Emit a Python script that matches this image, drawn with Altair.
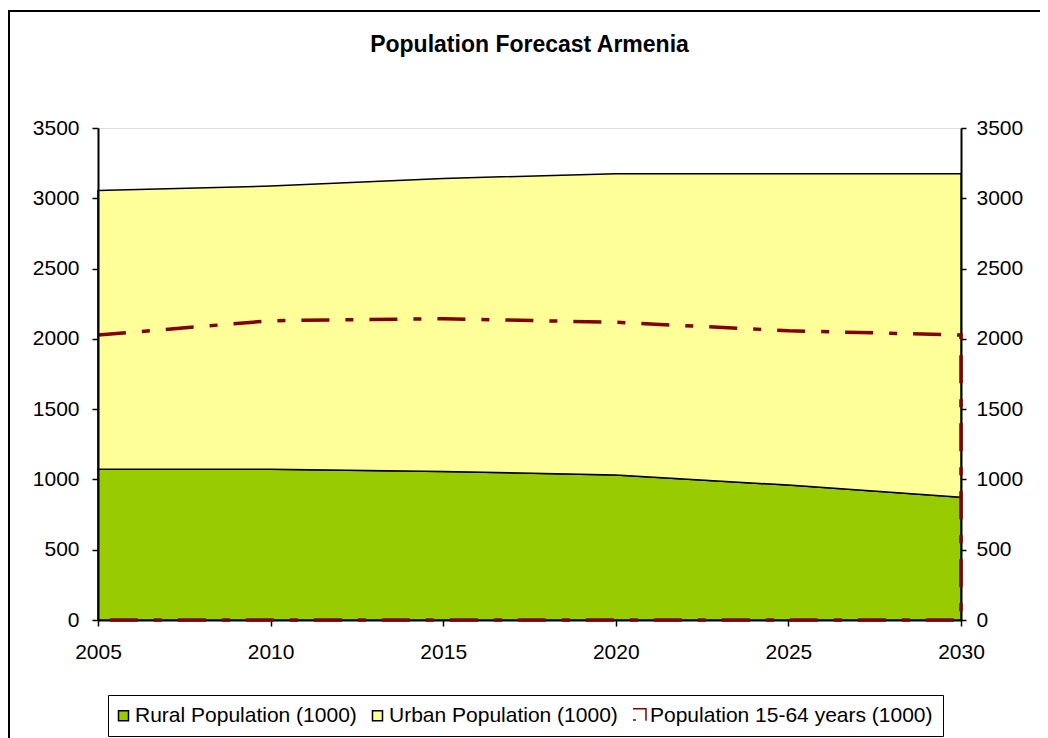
import altair as alt
import pandas as pd

years = [2005, 2010, 2015, 2020, 2025, 2030]
rural = [1072, 1072, 1057, 1031, 960, 873]
urban = [1983, 2015, 2084, 2144, 2215, 2302]
pop1564 = [2027, 2129, 2143, 2118, 2058, 2027]

series_names = ["Rural Population (1000)", "Urban Population (1000)", "Population 15-64 years (1000)"]
x_ticks = [2005, 2010, 2015, 2020, 2025, 2030]
y_ticks = [0, 500, 1000, 1500, 2000, 2500, 3000, 3500]

rows = []
for i, yr in enumerate(years):
    rows.append({"year": yr, "series": series_names[0], "value": rural[i], "ord": 0})
    rows.append({"year": yr, "series": series_names[1], "value": urban[i], "ord": 1})
stack_df = pd.DataFrame(rows)

# outline of the unfilled 15-64 area: top edge, then down the right side and back along the baseline
outline_rows = [{"year": yr, "value": v, "seq": i} for i, (yr, v) in enumerate(zip(years, pop1564))]
outline_rows.append({"year": years[-1], "value": 0, "seq": len(years)})
outline_rows.append({"year": years[0], "value": 0, "seq": len(years) + 1})
outline_df = pd.DataFrame(outline_rows)
legend_df = pd.DataFrame({"year": years[:1], "value": pop1564[:1], "series": series_names[2:]})

FONT = "Liberation Sans"
fill_scale = alt.Scale(domain=series_names, range=["#99CC00", "#FFFF99", "transparent"])
legend = alt.Legend(
    title=None, orient="none", legendX=10, legendY=567, direction="horizontal",
    labelFont=FONT, labelFontSize=21, labelColor="black", labelLimit=400,
    symbolSize=100, labelOffset=1, columnPadding=12, padding=10, symbolOffset=-5,
    strokeColor="black", fillColor="white", symbolOpacity=1, symbolStrokeWidth=1.5,
)

x_scale = alt.Scale(domain=[2005, 2030], nice=False, zero=False)
x_enc = alt.X("year:Q", scale=x_scale,
              axis=alt.Axis(values=x_ticks, format="d", title=None, grid=False, labelFlush=False,
                            labelOverlap=False, labelFont=FONT, labelFontSize=21, labelColor="black",
                            labelPadding=15, tickSize=6, tickColor="black", tickWidth=1.5,
                            domainColor="black", domainWidth=2, zindex=0))
y_scale = alt.Scale(domain=[0, 3500], nice=False)

areas = alt.Chart(stack_df).mark_area(stroke="black", strokeWidth=1.5, opacity=1).encode(
    x=x_enc,
    y=alt.Y("value:Q", stack="zero", scale=y_scale,
            axis=alt.Axis(values=y_ticks, format="d", title=None, grid=False, orient="left",
                          labelFont=FONT, labelFontSize=21, labelColor="black", labelPadding=13,
                          tickSize=6, tickColor="black", tickWidth=1.5,
                          domainColor="black", domainWidth=2, zindex=1)),
    fill=alt.Fill("series:N", scale=fill_scale, legend=legend),
    order=alt.Order("ord:Q"),
)

pop_line = alt.Chart(outline_df).mark_line(
    stroke="#800000", strokeWidth=3.5, strokeDash=[28, 16, 8, 16], interpolate="linear"
).encode(
    x=alt.X("year:Q", scale=x_scale),
    y=alt.Y("value:Q", scale=y_scale,
            axis=alt.Axis(values=y_ticks, format="d", title=None, grid=False, orient="right",
                          labelFont=FONT, labelFontSize=21, labelColor="black", labelPadding=10,
                          tickSize=5, tickColor="black", tickWidth=1.5,
                          domainColor="black", domainWidth=2, zindex=0)),
    order=alt.Order("seq:Q"),
)

legend_pts = alt.Chart(legend_df).mark_point(opacity=0).encode(
    x=alt.X("year:Q", scale=x_scale),
    y=alt.Y("value:Q", scale=y_scale, axis=None),
    fill=alt.Fill("series:N", scale=fill_scale, legend=legend),
    shape=alt.Shape("series:N", scale=alt.Scale(domain=series_names,
                    range=["square", "square", "M-1.1,-1.4H1.5V1.0M-1.1,0.85H-0.5"]), legend=legend),
    stroke=alt.Stroke("series:N", scale=alt.Scale(domain=series_names,
                      range=["black", "black", "#800000"]), legend=legend),
    strokeWidth=alt.StrokeWidth("series:N", scale=alt.Scale(domain=series_names,
                                range=[1.5, 1.5, 3]), legend=legend),
)

frame_df = pd.DataFrame({"k": [0]})
frame = alt.Chart(frame_df).mark_rect(fill="transparent", stroke="black", strokeWidth=2).encode(
    x=alt.value(-89), x2=alt.value(990), y=alt.value(-117), y2=alt.value(700)
)

chart = alt.layer(areas, pop_line, legend_pts, frame).resolve_axis(y="independent").properties(
    width=863, height=492,
    autosize=alt.AutoSizeParams(type="none"),
    padding={"left": 90, "top": 120, "right": 79, "bottom": 118},
    title=alt.TitleParams("Population Forecast Armenia", font=FONT, fontSize=23, fontWeight="bold",
                          color="black", anchor="middle", frame="group", baseline="alphabetic",
                          offset=-65),
).configure_view(stroke="#7a7a7a", strokeWidth=2).configure(background="white")

chart.save("out.html", embed_options={"renderer": "svg", "actions": False})
